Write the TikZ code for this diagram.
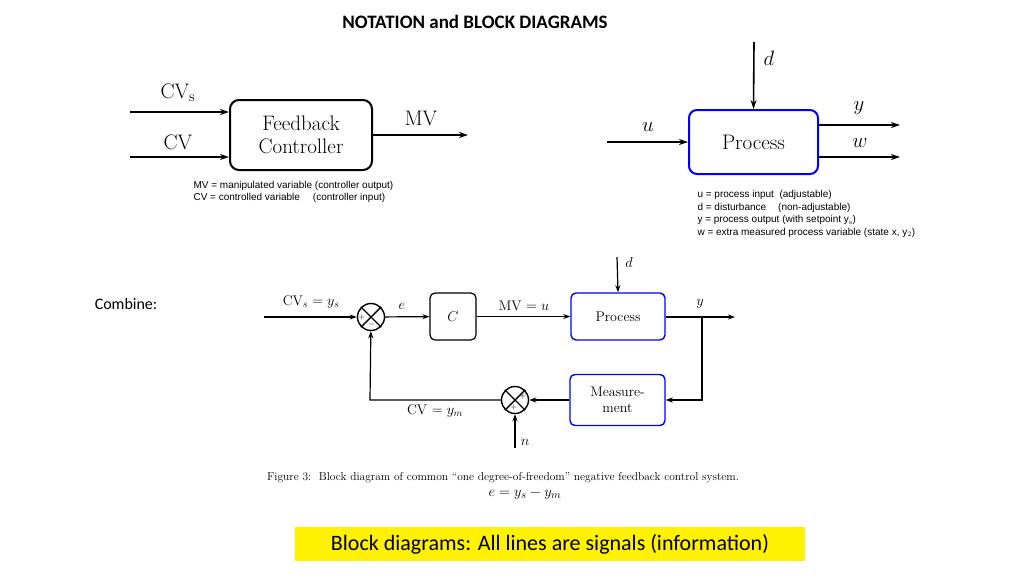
\documentclass[tikz,border=0pt]{standalone}
\usepackage{fontspec}
\newfontfamily\calfont{Carlito}
\newfontfamily\lsans{Liberation Sans}
\usetikzlibrary{arrows.meta}
\begin{document}
\begin{tikzpicture}[x=1pt,y=-1pt,
 sig/.style={line width=1.6pt,-{Stealth[length=9pt,width=6pt]}},
 sig2/.style={line width=1.2pt,-{Stealth[length=7pt,width=5pt]}},
 big/.style={font=\fontsize{21}{23}\selectfont},
 mid/.style={font=\fontsize{14}{16}\selectfont},
 capt/.style={font=\lsans\fontsize{10}{12.5}\selectfont,anchor=west,align=left},
 sumn/.style={circle,draw,line width=1.4pt,minimum size=27pt,inner sep=0pt}]
\useasboundingbox (0,0) rectangle (1024,576);
\node[font=\calfont\bfseries\fontsize{19}{21}\selectfont] (title) at (475,22) {NOTATION and BLOCK DIAGRAMS};
% top-left
\node[draw,line width=2pt,rounded corners=9pt,minimum width=142pt,minimum height=70pt,align=center,big,inner sep=0pt] (fb) at (301,135) {Feedback\\Controller};
\coordinate (a1) at (130,112); \coordinate (a2) at (130,157); \coordinate (a3) at (468,135);
\draw[sig] (a1) -- (a1-|fb.west);
\draw[sig] (a2) -- (a2-|fb.west);
\draw[sig] (fb.east|-a3) -- (a3);
\node[big] (l1) at (178,93) {CV$_{\mathrm{s}}$};
\node[big] (l2) at (178,142) {CV};
\node[big] (l3) at (421,118) {MV};
\node[capt] (c1) at (190,192) {MV = manipulated variable (controller output)\\CV = controlled variable\hspace{13pt}(controller input)};
% top-right
\node[draw=blue,line width=2pt,rounded corners=8pt,minimum width=129pt,minimum height=64pt,big] (pr) at (753.5,142) {Process};
\coordinate (b1) at (607,142); \coordinate (b2) at (754,42); \coordinate (b3) at (900,125); \coordinate (b4) at (900,157);
\draw[sig] (b1) -- (pr.west);
\draw[sig] (b2) -- (pr.north);
\draw[sig] (pr.east|-b3) -- (b3);
\draw[sig] (pr.east|-b4) -- (b4);
\node[big] (u) at (648,127) {$u$};
\node[big] (d) at (769,58) {$d$};
\node[big] (y) at (859,108) {$y$};
\node[big] (w) at (860,143) {$w$};
\node[capt] (c2) at (694,214) {u = process input\ \ (adjustable)\\d = disturbance\hspace{12pt}(non-adjustable)\\y = process output (with setpoint y$_{\mathrm{s}}$)\\w = extra measured process variable (state x, y$_{2}$)};
\node[font=\calfont\fontsize{16}{18}\selectfont] (comb) at (126,304) {Combine:};
% bottom
\node[sumn] (s1) at (371,317) {};
\draw[line width=1.4pt] (s1.north west)--(s1.south east) (s1.north east)--(s1.south west);
\node[font=\footnotesize,inner sep=0pt] at (362,317) {+};
\node[font=\footnotesize,inner sep=0pt] at (372,324) {$-$};
\node[draw,line width=1.2pt,rounded corners=5pt,minimum width=46pt,minimum height=47pt,mid] (C) at (453,316.5) {$C$};
\node[draw=blue,line width=1.4pt,rounded corners=5pt,minimum width=94pt,minimum height=47pt,mid] (P) at (618,316.5) {Process};
\node[draw=blue,line width=1.4pt,rounded corners=5pt,minimum width=95pt,minimum height=51pt,mid,align=center,inner sep=0pt] (M) at (617.5,400) {Measure-\\ment};
\node[sumn] (s2) at (515,400) {};
\draw[line width=1.4pt] (s2.north west)--(s2.south east) (s2.north east)--(s2.south west);
\node[font=\footnotesize,inner sep=0pt] at (523,396) {+};
\node[font=\footnotesize,inner sep=0pt] at (514,407) {+};
\coordinate (in) at (264,317); \coordinate (out) at (735,317);
\coordinate (dd) at (617,257); \coordinate (br) at (702,317); \coordinate (nn) at (515,448);
\coordinate (cor) at (370,400);
\draw[sig2] (in) -- (s1);
\draw[sig2] (s1) -- (C);
\draw[sig2] (C) -- (P);
\draw[sig2] (dd) -- (P.north);
\draw[sig2] (P.east|-out) -- (out);
\draw[sig2] (br) |- (M.east);
\draw[sig2] (M) -- (s2);
\draw[sig2] (s2) -- (cor) -- (s1);
\draw[sig2] (nn) -- (s2);
\node[mid] (lcv) at (311,302) {CV$_s=y_s$};
\node[mid] (le) at (402,306) {$e$};
\node[mid] (lmv) at (524,306) {MV $=u$};
\node[mid] (ld) at (629,262) {$d$};
\node[mid] (ly) at (700,304) {$y$};
\node[mid] (lym) at (435,411) {CV $=y_m$};
\node[mid] (ln) at (525,442) {$n$};
\node[font=\fontsize{11.5}{13}\selectfont] (fig) at (503,478) {Figure 3:\ \ Block diagram of common ``one degree-of-freedom'' negative feedback control system.};
\node[font=\fontsize{15}{17}\selectfont] (eq) at (525,494) {$e=y_s-y_m$};
\node[fill=yellow,font=\calfont\fontsize{22}{24}\selectfont,minimum width=510pt,minimum height=34pt,inner sep=0pt] (bd) at (550,544) {Block diagrams: All lines are signals (information)};
\end{tikzpicture}
\end{document}
